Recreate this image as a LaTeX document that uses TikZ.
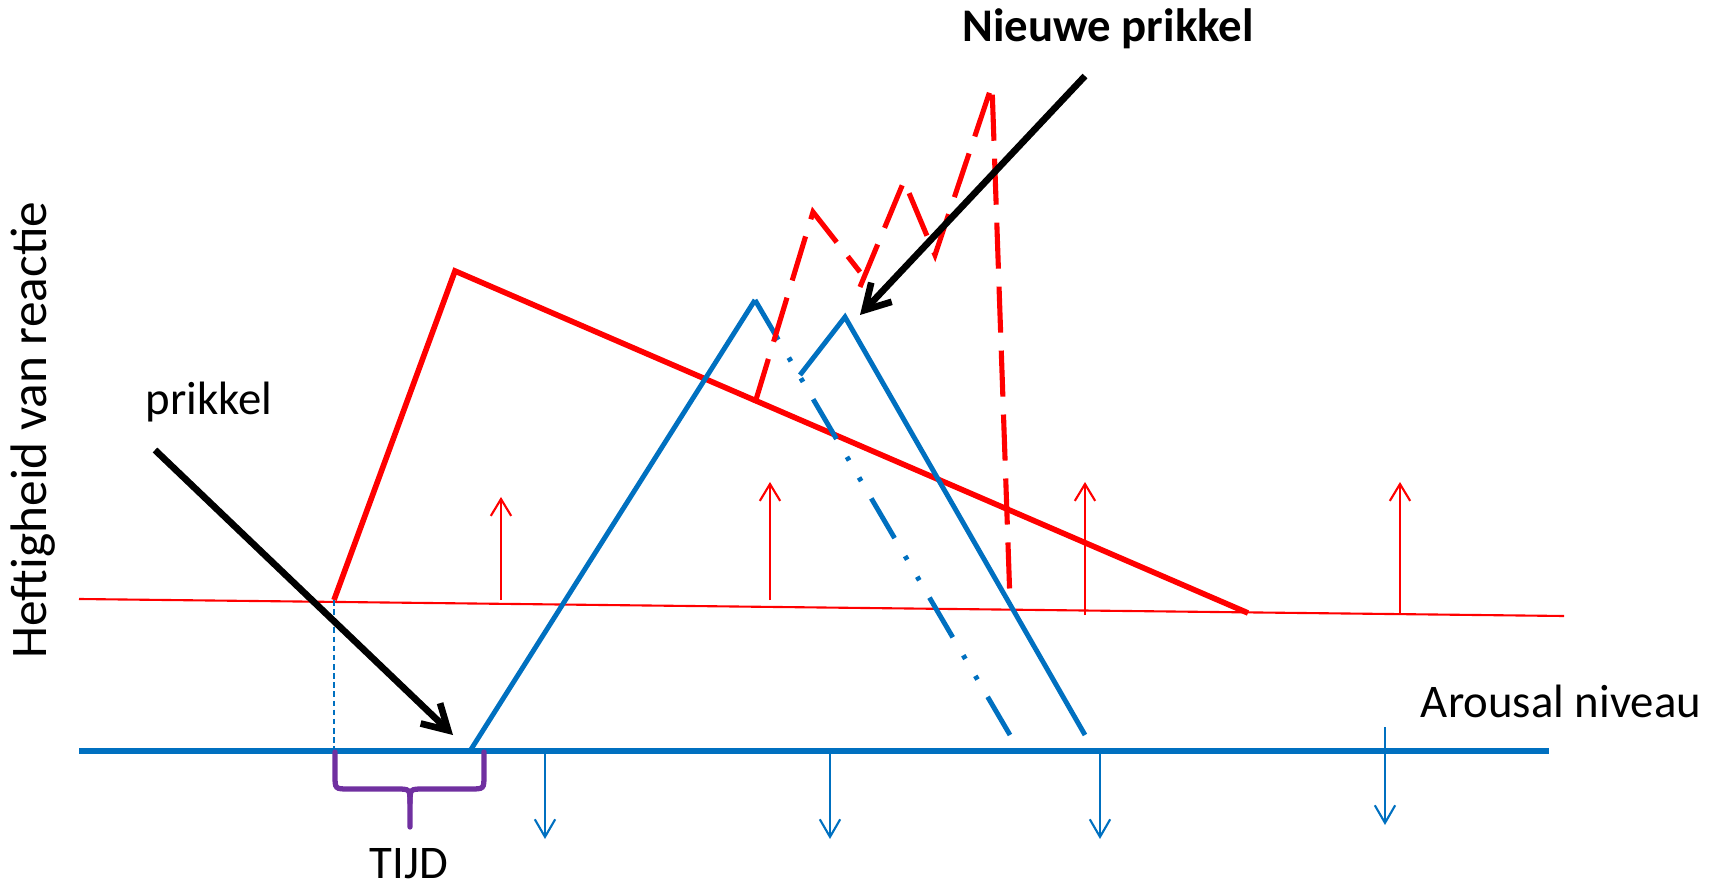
\documentclass[tikz,border=0pt]{standalone}
\usepackage{fontspec}
\setmainfont{Carlito}
\usetikzlibrary{arrows.meta}
\definecolor{myred}{HTML}{FF0000}
\definecolor{myblue}{HTML}{0070C0}
\definecolor{mypurple}{HTML}{7030A0}
\tikzset{
  redthick/.style={myred, line width=1.6pt, line join=miter},
  reddash/.style={myred, line width=1.45pt, dash pattern=on 13.1pt off 5.1pt},
  redthin/.style={myred, line width=0.6pt},
  redup/.style={myred, line width=0.6pt, -{Straight Barb[length=4.8pt,width=5.8pt,line width=0.6pt]}},
  bluemain/.style={myblue, line width=1.8pt},
  blueline/.style={myblue, line width=1.4pt},
  bluedd/.style={myblue, line width=1.4pt, dash pattern=on 13.1pt off 5.9pt on 1.2pt off 5.6pt on 1.2pt off 5.7pt},
  bluedown/.style={myblue, line width=0.6pt, -{Straight Barb[length=5pt,width=5.8pt,line width=0.6pt]}},
  bluedot/.style={myblue, line width=0.5pt, dash pattern=on 1.6pt off 1pt},
  blackarrow/.style={black, line width=1.9pt, -{Straight Barb[length=7pt,width=8pt,line width=1.9pt]}},
  bracestyle/.style={mypurple, line width=1.5pt, line cap=round},
  lbl/.style={inner sep=0pt, font=\fontsize{13.3pt}{16pt}\selectfont},
}
\begin{document}
\begin{tikzpicture}[x=0.01cm,y=-0.01cm]
\useasboundingbox (0,0) rectangle (1723,885);
% key coordinates
\coordinate (rs) at (334,600);
\coordinate (rp) at (455,271);
\coordinate (re) at (1248,613);
\coordinate (tl) at (79,599);
\coordinate (tr) at (1564,616);
\coordinate (bl) at (79,751);
\coordinate (br) at (1549,751);
\coordinate (b1s) at (470,751);
\coordinate (b1p) at (755,300);
\coordinate (b1e) at (1010,735);
\coordinate (b2s) at (800,375);
\coordinate (b2p) at (845,317);
\coordinate (b2e) at (1085,735);
% red thin baseline
\draw[redthin] (tl) -- (tr);
% red up arrows
\foreach \n/\x/\ya/\yb in {1/501/600/497, 2/770/600/482, 3/1085/615/482, 4/1400/615/482}{
  \coordinate (ua\n) at (\x,\ya);
  \coordinate (ub\n) at (\x,\yb);
  \draw[redup] (ua\n) -- (ub\n);
}
% blue main line
\draw[bluemain] (bl) -- (br);
% blue down arrows
\foreach \n/\x/\ya/\yb in {1/545/751/839, 2/830/751/839, 3/1100/751/839, 4/1385/727/825}{
  \coordinate (da\n) at (\x,\ya);
  \coordinate (db\n) at (\x,\yb);
  \draw[bluedown] (da\n) -- (db\n);
}
% blue dotted vertical
\coordinate (vb) at (334,751);
\draw[bluedot] (rs) -- (vb);
% red thick
\draw[redthick] (rs) -- (rp) -- (re);
% blue triangles
\draw[blueline] (b1s) -- (b1p);
\draw[bluedd] (b1p) -- (b1e);
\draw[blueline, line join=miter] (b2s) -- (b2p) -- (b2e);
% red dashed
\coordinate (d1) at (755,403);
\coordinate (d2) at (813,212);
\coordinate (d3) at (860,272);
\coordinate (d4) at (860,287);
\coordinate (d5) at (904,181);
\coordinate (d6) at (935,255);
\coordinate (d7) at (992,85);
\coordinate (d8) at (1010,601);
\draw[reddash] (d1) -- (d2) -- (d3);
\draw[reddash] (d4) -- (d5) -- (d6) -- (d7) -- (d8);
% black arrows
\coordinate (p1t) at (155,450);
\coordinate (p1h) at (453,735);
\draw[blackarrow] (p1t) -- (p1h);
\coordinate (p2t) at (1085,76);
\coordinate (p2h) at (860,315);
\draw[blackarrow] (p2t) -- (p2h);
% brace
\coordinate (brl) at (335,752);
\coordinate (brr) at (484,752);
\coordinate (brm) at (410,827);
\draw[bracestyle] (brl) -- (335,775) .. controls (335,789) .. (349,789) -- (396,789) .. controls (410,789) .. (410,803) -- (brm);
\draw[bracestyle] (brr) -- (484,775) .. controls (484,789) .. (470,789) -- (424,789) .. controls (410,789) .. (410,803);
% labels
\node[lbl, anchor=base, font=\fontsize{13.3pt}{16pt}\selectfont\bfseries] (nieuw) at (1108,42) {Nieuwe prikkel};
\node[lbl, anchor=base] (prik) at (209,415) {prikkel};
\node[lbl, anchor=base] (arou) at (1561,717) {Arousal niveau};
\node[lbl, anchor=base] (tijd) at (409,878) {TIJD};
\node[inner sep=0pt, anchor=base, rotate=90, font=\fontsize{14.6pt}{17pt}\selectfont] (heft) at (47,430) {Heftigheid van reactie};
\end{tikzpicture}
\end{document}
